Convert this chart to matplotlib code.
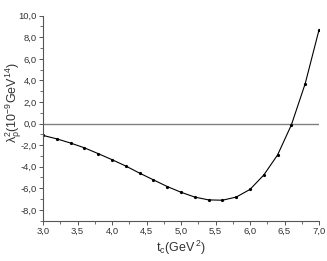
import matplotlib
matplotlib.use('Agg')
import matplotlib.pyplot as plt
from matplotlib.ticker import MultipleLocator, FuncFormatter

# Data
tc = [3.0, 3.2, 3.4, 3.6, 3.8, 4.0, 4.2, 4.4, 4.6, 4.8, 5.0,
      5.2, 5.4, 5.6, 5.8, 6.0, 6.2, 6.4, 6.6, 6.8, 7.0]
lam2 = [-1.10, -1.42, -1.81, -2.25, -2.79, -3.35, -3.94, -4.60, -5.22, -5.84, -6.37,
        -6.82, -7.08, -7.11, -6.82, -6.11, -4.77, -2.91, -0.12, 3.70, 8.68]

plt.rcParams['font.family'] = ['Liberation Sans', 'DejaVu Sans']

fig = plt.figure(figsize=(3.27, 2.61), dpi=100)
ax = fig.add_axes([43 / 327, 1 - 220.6 / 261, 276 / 327, (220.6 - 15.7) / 261])

ax.axhline(0, color='#808080', lw=1.0)
ax.plot(tc, lam2, color='black', lw=0.8, marker='o', ms=1.3)

ax.set_xlim(3.0, 7.0)
ax.set_ylim(-9, 10)

ax.xaxis.set_major_locator(MultipleLocator(0.5))
ax.xaxis.set_minor_locator(MultipleLocator(0.25))
ax.yaxis.set_major_locator(MultipleLocator(2))
ax.yaxis.set_minor_locator(MultipleLocator(1))
comma = FuncFormatter(lambda v, p: ('%.1f' % v).replace('.', ','))
ax.xaxis.set_major_formatter(comma)
ax.yaxis.set_major_formatter(comma)

for s in ['top', 'right']:
    ax.spines[s].set_visible(False)
for s in ['left', 'bottom']:
    ax.spines[s].set_color('#555555')
    ax.spines[s].set_linewidth(0.8)

ax.tick_params(which='major', direction='out', length=3, width=0.7,
               labelsize=6.8, colors='#555555', labelcolor='#333333', pad=1.5)
ax.tick_params(which='minor', direction='out', length=2, width=0.6, colors='#555555')

ax.set_xlabel(r'$\mathregular{t_c(GeV^{\,2})}$', fontsize=9, color='#333333', labelpad=2)
ax.set_ylabel(r'$\mathregular{\lambda^2_\rho(10^{-9}GeV^{14})}$', fontsize=9, color='#333333')
ax.yaxis.set_label_coords(-0.068, 0.575)

fig.savefig('out.png', dpi=100)
